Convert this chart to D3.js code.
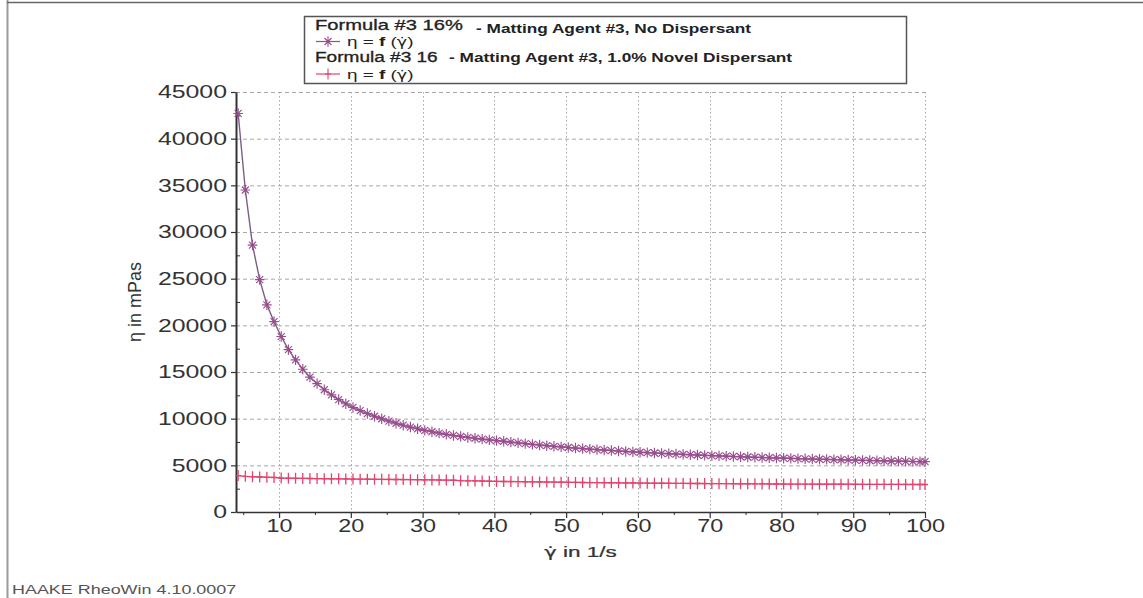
<!DOCTYPE html>
<html><head><meta charset="utf-8">
<script src="https://cdn.jsdelivr.net/npm/d3@7/dist/d3.min.js"></script>
<style>
body{margin:0;background:#fff;}
svg{display:block;}
text{font-family:"Liberation Sans",Arial,sans-serif;}
</style>
</head><body>
<svg id="chart" width="1143" height="598"></svg>
<script>
// ---- data ----
const shearRate = [4.3,5.3,6.3,7.3,8.3,9.3,10.3,11.3,12.3,13.3,14.3,15.3,16.3,17.3,18.3,19.3,20.3,21.3,22.3,23.3,24.3,25.3,26.3,27.3,28.3,29.3,30.3,31.3,32.3,33.3,34.3,35.3,36.3,37.3,38.3,39.3,40.3,41.3,42.3,43.3,44.3,45.3,46.3,47.3,48.3,49.3,50.3,51.3,52.3,53.3,54.3,55.3,56.3,57.3,58.3,59.3,60.3,61.3,62.3,63.3,64.3,65.3,66.3,67.3,68.3,69.3,70.3,71.3,72.3,73.3,74.3,75.3,76.3,77.3,78.3,79.3,80.3,81.3,82.3,83.3,84.3,85.3,86.3,87.3,88.3,89.3,90.3,91.3,92.3,93.3,94.3,95.3,96.3,97.3,98.3,99.3,100];
const etaNoDispersant = [42700,34500,28600,24900,22200,20400,18800,17400,16300,15300,
  14450,13750,13100,12550,12050,11600,11200,10870,10550,10260,
  9990,9740,9510,9300,9100,8920,8750,8600,8455,8325,
  8200,8090,7990,7900,7810,7730,7650,7580,7490,7410,
  7330,7250,7175,7105,7040,6975,6910,6850,6795,6740,
  6685,6635,6585,6540,6490,6445,6405,6360,6320,6280,
  6245,6210,6175,6140,6105,6070,6040,6010,5980,5950,
  5920,5895,5870,5840,5815,5790,5765,5745,5720,5700,
  5675,5655,5635,5615,5595,5575,5555,5535,5520,5500,
  5485,5465,5450,5430,5415,5400,5390];
const etaNovelDispersant = [3900,3820,3780,3750,3720,3700,3640,3620,3610,3600,
  3590,3580,3570,3560,3550,3540,3530,3520,3515,3505,
  3500,3490,3480,3475,3465,3460,3450,3440,3430,3420,
  3400,3360,3340,3330,3320,3300,3280,3270,3260,3250,
  3240,3230,3220,3210,3200,3190,3180,3170,3160,3150,
  3145,3140,3130,3125,3115,3110,3100,3090,3085,3080,
  3075,3070,3065,3060,3055,3050,3045,3040,3035,3030,
  3025,3020,3015,3010,3005,3000,2995,2990,2990,2985,
  2985,2980,2980,2975,2975,2970,2970,2965,2965,2960,
  2960,2955,2955,2950,2950,2945,2945];
const xTicks = [10,20,30,40,50,60,70,80,90,100];
const xMinorTicks = [5,15,25,35,45,55,65,75,85,95];
const yTicks = [0,5000,10000,15000,20000,25000,30000,35000,40000,45000];
const yMinorTicks = [2500,7500,12500,17500,22500,27500,32500,37500,42500];
const seriesNames = ["Formula #3 16%", "Formula #3 16"];
const seriesNotes = ["- Matting Agent #3, No Dispersant", "- Matting Agent #3, 1.0% Novel Dispersant"];
const gammaDot = "γ\u0307";
const xTitleRest = " in 1/s";
const yTitle = "η in mPas";
const footer = "HAAKE RheoWin 4.10.0007";

// ---- layout ----
const svg = d3.select("#chart");
const x = d3.scaleLinear().domain([4,100]).range([236,925]);
const y = d3.scaleLinear().domain([0,45000]).range([512,92]);
const purpleLine = "#7b5d86", purpleMark = "#9a4d8e";
const redCol = "#e0446f";

function stretch(sel, k){
  sel.each(function(){
    const w = this.getComputedTextLength();
    this.setAttribute("textLength", (w*k).toFixed(1));
    this.setAttribute("lengthAdjust","spacingAndGlyphs");
  });
}
// text placed at (tx,ty) and widened horizontally by k
function wideText(parent, tx, ty, k){
  return parent.append("g").attr("transform",`translate(${tx},${ty}) scale(${k},1)`).append("text");
}

// outer frame
svg.append("line").attr("x1",7.5).attr("x2",7.5).attr("y1",0).attr("y2",598)
  .attr("stroke","#9a9a9a").attr("stroke-width",2);
svg.append("line").attr("x1",7).attr("x2",1143).attr("y1",2.5).attr("y2",2.5)
  .attr("stroke","#666").attr("stroke-width",1.5);

// grid
const grid = svg.append("g");
grid.selectAll("line.h").data(yTicks.filter(d=>d>0)).join("line")
  .attr("x1",x(4)).attr("x2",x(100)).attr("y1",d=>y(d)+0.5).attr("y2",d=>y(d)+0.5)
  .attr("stroke","#a8a8a8").attr("stroke-width",1).attr("stroke-dasharray","4,3");
grid.selectAll("line.v").data(xTicks).join("line")
  .attr("x1",d=>Math.round(x(d))+0.5).attr("x2",d=>Math.round(x(d))+0.5).attr("y1",y(45000)).attr("y2",y(0))
  .attr("stroke","#a8a8a8").attr("stroke-width",1).attr("stroke-dasharray","1.5,2.5");

// axes
const gx = svg.append("g").attr("transform",`translate(0,${y(0)})`)
  .call(d3.axisBottom(x).tickValues(xTicks).tickSize(6).tickPadding(1).tickSizeOuter(0));
gx.select(".domain").attr("stroke","#333").attr("stroke-width",1.5);
gx.selectAll(".tick line").attr("stroke","#333").attr("stroke-width",1.2);
gx.selectAll(".tick text").attr("font-size",18).attr("fill","#333").attr("font-family","Liberation Sans, Arial, sans-serif");
const gxm = svg.append("g").attr("transform",`translate(0,${y(0)})`)
  .call(d3.axisBottom(x).tickValues(xMinorTicks).tickSize(3).tickFormat(""));
gxm.select(".domain").remove();
gxm.selectAll(".tick line").attr("stroke","#333");

const gy = svg.append("g").attr("transform",`translate(${x(4)},0)`)
  .call(d3.axisLeft(y).tickValues(yTicks).tickSize(5).tickPadding(4).tickSizeOuter(0).tickFormat(d3.format("d")));
gy.select(".domain").attr("stroke","#333").attr("stroke-width",2);
gy.selectAll(".tick line").attr("stroke","#333").attr("stroke-width",1.2);
gy.selectAll(".tick text").attr("font-size",18).attr("fill","#333").attr("font-family","Liberation Sans, Arial, sans-serif");
const gym = svg.append("g").attr("transform",`translate(${x(4)},0)`)
  .call(d3.axisLeft(y).tickValues(yMinorTicks).tickSize(-4).tickFormat(""));
gym.select(".domain").remove();
gym.selectAll(".tick line").attr("stroke","#333");

// series
const d1 = shearRate.map((s,i)=>[s,etaNoDispersant[i]]);
const d2 = shearRate.map((s,i)=>[s,etaNovelDispersant[i]]);
const line = d3.line().x(d=>x(d[0])).y(d=>y(d[1]));

svg.append("path").datum(d2).attr("d",line).attr("fill","none").attr("stroke",redCol).attr("stroke-width",1.4);
svg.append("path").datum(d1).attr("d",line).attr("fill","none").attr("stroke",purpleLine).attr("stroke-width",1.4);

function starPath(cx,cy){
  const a=4.8, b=5.2, c=3.5;
  return `M${cx-a},${cy}L${cx+a},${cy}M${cx},${cy-b}L${cx},${cy+b}M${cx-c},${cy-c}L${cx+c},${cy+c}M${cx-c},${cy+c}L${cx+c},${cy-c}`;
}
function plusPath(cx,cy){
  return `M${cx-3},${cy}L${cx+3},${cy}M${cx},${cy-5.5}L${cx},${cy+5.5}`;
}
svg.append("g").selectAll("path").data(d2).join("path")
  .attr("d",d=>plusPath(x(d[0]),y(d[1]))).attr("stroke",redCol).attr("stroke-width",1.3);
svg.append("g").selectAll("path").data(d1).join("path")
  .attr("d",d=>starPath(x(d[0]),y(d[1]))).attr("stroke",purpleMark).attr("stroke-width",1.15);

// axis titles
const xt = wideText(svg, x(52), 557, 1.5).attr("text-anchor","middle")
  .attr("font-size",15).attr("fill","#333").attr("stroke","#333").attr("stroke-width",0.25);
xt.append("tspan").attr("font-family","DejaVu Sans").attr("font-size",14).text(gammaDot);
xt.append("tspan").text(xTitleRest);
svg.append("text").attr("transform","translate(141,302) rotate(-90)").attr("text-anchor","middle")
  .attr("font-size",18).attr("fill","#333").text(yTitle);

// legend
const lg = svg.append("g");
lg.append("rect").attr("x",304.5).attr("y",16.5).attr("width",602).attr("height",67)
  .attr("fill","#fff").attr("stroke","#555").attr("stroke-width",1.5);
const rowsY = [29.5, 62];
const markY = [41.5, 74];
const nameScale = [1.44, 1.36];
const noteX = [476, 449];
seriesNames.forEach((nm,i)=>{
  wideText(lg, 315, rowsY[i], nameScale[i]).attr("font-size",14).attr("fill","#222")
    .attr("stroke","#222").attr("stroke-width",0.3).text(nm);
  wideText(lg, noteX[i], rowsY[i]+(i===0?3:0), 1.38).attr("font-size",12.5).attr("font-weight","bold")
    .attr("fill","#222").text(seriesNotes[i]);
  const col = i===0?purpleMark:redCol;
  lg.append("line").attr("x1",316).attr("x2",340).attr("y1",markY[i]).attr("y2",markY[i])
    .attr("stroke",i===0?purpleLine:redCol).attr("stroke-width",1.2);
  lg.append("path").attr("d",i===0?starPath(328,markY[i]):plusPath(328,markY[i])).attr("stroke",col).attr("stroke-width",1.1);
  const t = wideText(lg, 347, markY[i]+4.5, 1.4).attr("font-size",13.5).attr("fill","#222");
  t.append("tspan").text("η = ");
  t.append("tspan").attr("font-weight","bold").text("f");
  t.append("tspan").text(" (");
  t.append("tspan").attr("font-family","DejaVu Sans").attr("font-size",12.5).text(gammaDot);
  t.append("tspan").text(")");
});

// footer
wideText(svg, 12, 594, 1.38).attr("font-size",13).attr("fill","#555").text(footer);

// horizontal widening of the scanned tick typography
stretch(gx.selectAll(".tick text"),1.3);
stretch(gy.selectAll(".tick text"),1.38);
</script>
</body></html>
